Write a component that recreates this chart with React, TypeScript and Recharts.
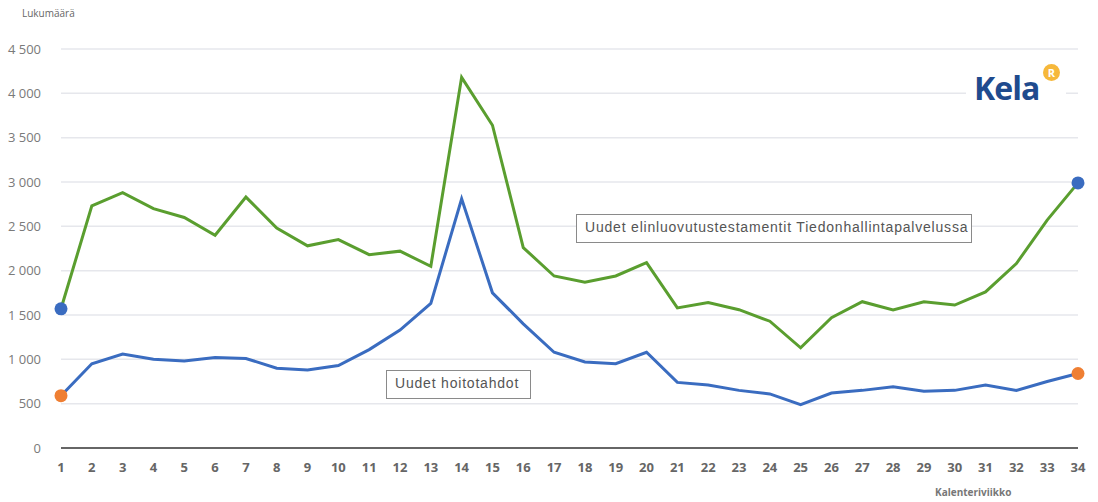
import React from 'react';
import { LineChart, Line, XAxis, YAxis, CartesianGrid } from 'recharts';

const weeks = Array.from({ length: 34 }, (_, i) => i + 1);

// Uudet elinluovutustestamentit Tiedonhallintapalvelussa
const testamentit = [
  1570, 2730, 2880, 2700, 2600, 2400, 2830, 2480, 2280, 2350,
  2180, 2220, 2050, 4180, 3640, 2260, 1940, 1870, 1940, 2090,
  1580, 1640, 1560, 1430, 1130, 1470, 1650, 1556, 1650, 1612,
  1760, 2080, 2570, 2990,
];

// Uudet hoitotahdot
const hoitotahdot = [
  590, 950, 1060, 1000, 980, 1020, 1010, 900, 880, 930,
  1110, 1330, 1630, 2810, 1750, 1400, 1080, 970, 950, 1080,
  740, 710, 650, 610, 490, 620, 650, 690, 640, 650,
  710, 650, 750, 840,
];

const yTicks = [0, 500, 1000, 1500, 2000, 2500, 3000, 3500, 4000, 4500];

const data = weeks.map((w, i) => ({
  week: w,
  testamentit: testamentit[i],
  hoitotahdot: hoitotahdot[i],
}));

const BLUE = '#3a6cc0';
const GREEN = '#5a9e2f';
const ORANGE = '#ef7f33';

const fmt = (v: number) => v.toLocaleString('en-US').replace(/,/g, ' ');

// only the first and last point get a marker
function endDot(color: string) {
  return (props: any) => {
    const { cx, cy, index } = props;
    if (index !== 0 && index !== data.length - 1) return <g key={index} />;
    return <circle key={index} cx={cx} cy={cy} r={6.5} fill={color} />;
  };
}

const boxStyle: React.CSSProperties = {
  position: 'absolute',
  background: '#fff',
  border: '1.5px solid #8a8a8a',
  fontSize: 14,
  color: '#555',
  lineHeight: '25px',
  padding: '0 8px',
  whiteSpace: 'nowrap',
  fontFamily: '"Liberation Sans", sans-serif',
  letterSpacing: 0.8,
  boxSizing: 'border-box',
};

export default function App() {
  return (
    <div
      style={{
        position: 'absolute',
        left: 0,
        top: 0,
        width: 1098,
        height: 502,
        background: '#fff',
        fontFamily: '"Open Sans", sans-serif',
      }}
    >
      <LineChart
        width={1098}
        height={502}
        data={data}
        margin={{ top: 49, right: 20, left: 0, bottom: 24 }}
      >
        <CartesianGrid vertical={false} stroke="#e6e7ec" strokeWidth={1.5} />
        <XAxis
          dataKey="week"
          type="number"
          domain={[1, 34]}
          ticks={weeks}
          interval={0}
          axisLine={{ stroke: '#666', strokeWidth: 2 }}
          tickLine={false}
          tick={{ fontSize: 13, fill: '#666', fontWeight: 700 }}
          tickMargin={9}
        />
        <YAxis
          domain={[0, 4500]}
          ticks={yTicks}
          tickFormatter={fmt}
          axisLine={false}
          tickLine={false}
          width={61}
          tick={{ fontSize: 13, fill: '#7a7a7a' }}
          tickMargin={14}
        />
        <Line
          type="linear"
          dataKey="testamentit"
          stroke={GREEN}
          strokeWidth={3}
          dot={endDot(BLUE)}
          activeDot={false}
          isAnimationActive={false}
        />
        <Line
          type="linear"
          dataKey="hoitotahdot"
          stroke={BLUE}
          strokeWidth={3}
          dot={endDot(ORANGE)}
          activeDot={false}
          isAnimationActive={false}
        />
      </LineChart>

      <div style={{ position: 'absolute', left: 22, top: 6, fontSize: 10, color: '#666' }}>
        Lukumäärä
      </div>
      <div
        style={{
          position: 'absolute',
          left: 935,
          top: 485,
          fontSize: 10,
          fontWeight: 700,
          color: '#777',
        }}
      >
        Kalenteriviikko
      </div>

      <div style={{ ...boxStyle, left: 576, top: 214, width: 396, height: 29 }}>
        Uudet elinluovutustestamentit Tiedonhallintapalvelussa
      </div>
      <div style={{ ...boxStyle, left: 386, top: 370, width: 145, height: 29 }}>
        Uudet hoitotahdot
      </div>

      {/* Kela logo */}
      <div
        style={{
          position: 'absolute',
          left: 966,
          top: 62,
          width: 100,
          height: 50,
          background: '#fff',
        }}
      >
        <div
          style={{
            position: 'absolute',
            left: 8,
            top: 8,
            fontSize: 32,
            fontWeight: 700,
            color: '#1f4b8e',
            fontFamily: '"Open Sans", sans-serif',
            letterSpacing: -1,
            lineHeight: '36px',
          }}
        >
          Kela
        </div>
        <div
          style={{
            position: 'absolute',
            left: 77,
            top: 2,
            width: 17,
            height: 17,
            borderRadius: '50%',
            background: '#f6b83b',
            color: '#fff',
            fontSize: 11,
            fontWeight: 700,
            textAlign: 'center',
            lineHeight: '17px',
          }}
        >
          R
        </div>
      </div>
    </div>
  );
}
